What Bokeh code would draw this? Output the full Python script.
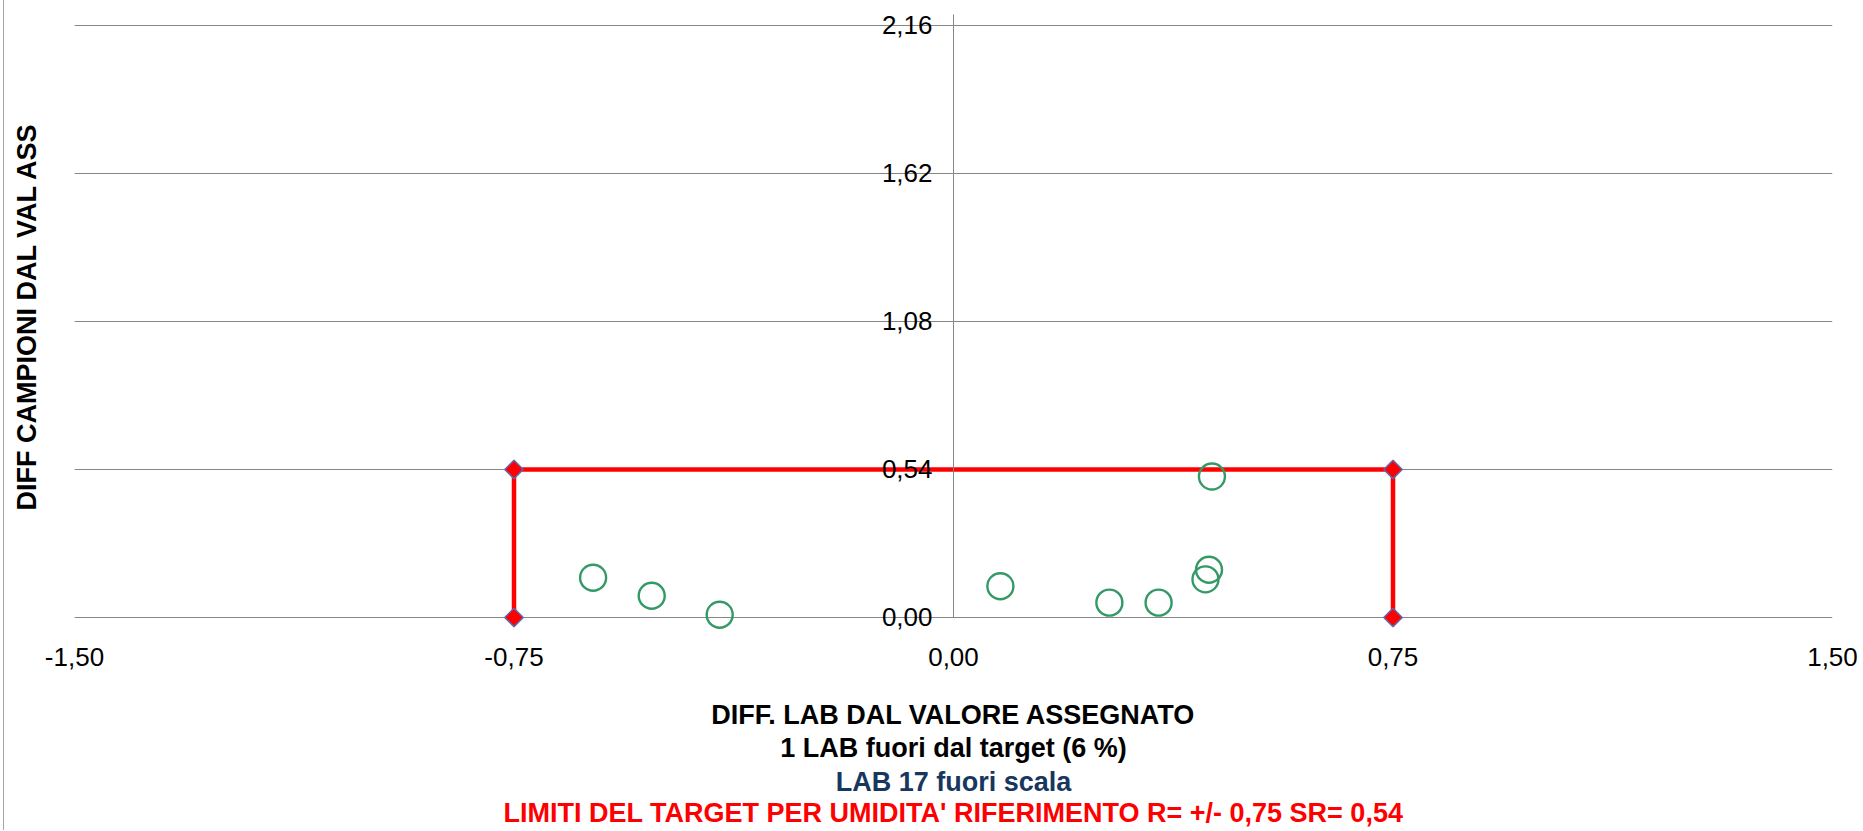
import numpy as np
from bokeh.plotting import figure
from bokeh.models import FixedTicker, Range1d, Title, LinearAxis
from bokeh.embed import file_html
from bokeh.resources import INLINE

# ---- data ----
lab_x = [-0.615, -0.515, -0.399, 0.080, 0.266, 0.350, 0.430, 0.436, 0.441]
lab_y = [0.145, 0.079, 0.010, 0.114, 0.054, 0.054, 0.139, 0.174, 0.514]

limit_x = [-0.75, -0.75, 0.75, 0.75]
limit_y = [0.0, 0.54, 0.54, 0.0]

x_ticks = [-1.5, -0.75, 0.0, 0.75, 1.5]
x_tick_labels = ["-1,50", "-0,75", "0,00", "0,75", "1,50"]
y_ticks = [0.0, 0.54, 1.08, 1.62, 2.16]
y_tick_labels = ["0,00", "0,54", "1,08", "1,62", "2,16"]
y_max = 2.2

y_title = "DIFF CAMPIONI DAL VAL ASS"
x_title = "DIFF. LAB DAL VALORE ASSEGNATO"
note_lines = [
    "1 LAB fuori dal target (6 %)",
    "LAB 17 fuori scala",
    "LIMITI DEL TARGET PER UMIDITA' RIFERIMENTO R= +/- 0,75 SR= 0,54",
]
note_colors = ["#000000", "#17375E", "#FF0000"]
note_standoffs = [0, 5, -8]

FONT = "Liberation Sans"
GRID = "#868686"
TITLE_SIZE = "27px"

p = figure(
    width=1855, height=830,
    x_range=Range1d(-1.5, 1.5), y_range=Range1d(-0.055, 2.251),
    output_backend="svg", toolbar_location=None,
    min_border_left=70, min_border_right=27,
    min_border_top=0, min_border_bottom=198,
)
p.styles = {"margin-left": "3px", "border-left": "1px solid #a6a6a6"}
p.outline_line_color = None
p.background_fill_color = "white"
p.border_fill_color = "white"

# grid
p.xgrid.visible = False
p.ygrid.ticker = FixedTicker(ticks=y_ticks)
p.ygrid.grid_line_color = GRID
p.ygrid.grid_line_width = 1

# x axis (labels below the plot, line = grid line at 0)
p.xaxis.ticker = FixedTicker(ticks=x_ticks)
p.xaxis.major_label_overrides = dict(zip(x_ticks, x_tick_labels))
p.xaxis.axis_line_color = None
p.xaxis.major_tick_line_color = None
p.xaxis.minor_tick_line_color = None
p.xaxis.major_tick_out = 0
p.xaxis.major_tick_in = 0
p.xaxis.major_label_standoff = 15
p.xaxis.major_label_text_font = FONT
p.xaxis.major_label_text_font_size = "26px"
p.xaxis.major_label_text_color = "black"
p.xaxis.axis_label = x_title
p.xaxis.axis_label_standoff = 31
p.xaxis.axis_label_text_font = FONT
p.xaxis.axis_label_text_font_style = "bold"
p.xaxis.axis_label_text_font_size = TITLE_SIZE
p.xaxis.axis_label_text_color = "black"

# y axis crossing at x = 0
p.yaxis.fixed_location = 0
p.yaxis.bounds = (0, y_max)
p.yaxis.ticker = FixedTicker(ticks=y_ticks)
p.yaxis.major_label_overrides = dict(zip(y_ticks, y_tick_labels))
p.yaxis.axis_line_color = GRID
p.yaxis.major_tick_line_color = None
p.yaxis.minor_tick_line_color = None
p.yaxis.major_tick_out = 0
p.yaxis.major_tick_in = 0
p.yaxis.major_label_standoff = 21
p.yaxis.major_label_text_font = FONT
p.yaxis.major_label_text_font_size = "26px"
p.yaxis.major_label_text_color = "black"

# y title carried by a label-only axis on the left edge
y_title_axis = LinearAxis(
    ticker=FixedTicker(ticks=[]),
    axis_label=y_title, axis_label_standoff=33,
    axis_label_text_font=FONT, axis_label_text_font_style="bold",
    axis_label_text_font_size="27px", axis_label_text_color="black",
    axis_line_color=None, major_tick_line_color=None,
    minor_tick_line_color=None, major_tick_in=0, major_tick_out=0,
    major_label_standoff=0, major_label_text_font_size="0px",
)
p.add_layout(y_title_axis, "left")

# target limits
p.line(limit_x, limit_y, line_color="#FF0000", line_width=4.5)
p.scatter(limit_x, limit_y, marker="square", angle=np.pi / 4, size=13,
          fill_color="#FF0000", line_color="#6464A8", line_width=1.5)

# laboratories
p.scatter(lab_x, lab_y, marker="circle", size=26, fill_color=None,
          line_color="#339966", line_width=2.4)

# notes below the x title
for t, c, s in zip(note_lines, note_colors, note_standoffs):
    try:
        ttl = Title(text=t, align="center", vertical_align="top", standoff=s)
    except Exception:
        ttl = Title(text=t, align="center", vertical_align="top", standoff=0)
    ttl.text_font = FONT
    ttl.text_font_style = "bold"
    ttl.text_font_size = TITLE_SIZE
    ttl.text_color = c
    p.add_layout(ttl, "below")

open("out.html", "w").write(file_html(p, INLINE))
